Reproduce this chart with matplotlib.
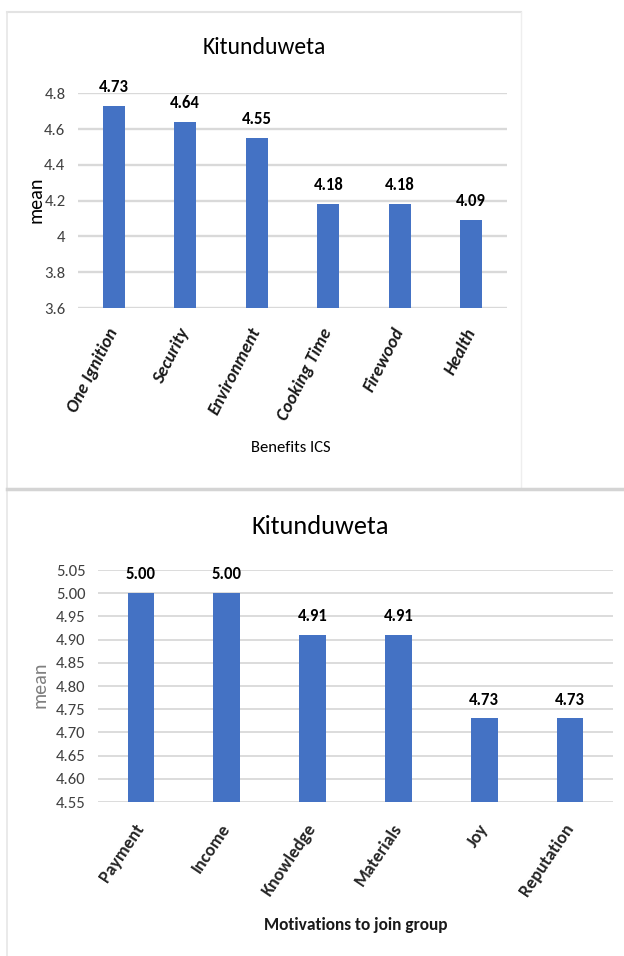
import matplotlib
matplotlib.use("Agg")
import matplotlib.pyplot as plt
from matplotlib.lines import Line2D

# ---- data ----
title_top = "Kitunduweta"
benefits = ["One Ignition", "Security", "Environment", "Cooking Time", "Firewood", "Health"]
benefit_means = [4.73, 4.64, 4.55, 4.18, 4.18, 4.09]
benefit_ticks = [3.6, 3.8, 4.0, 4.2, 4.4, 4.6, 4.8]
benefit_tick_labels = ["3.6", "3.8", "4", "4.2", "4.4", "4.6", "4.8"]
benefit_xlabel = "Benefits ICS"

title_bottom = "Kitunduweta"
motivations = ["Payment", "Income", "Knowledge", "Materials", "Joy", "Reputation"]
motivation_means = [5.00, 5.00, 4.91, 4.91, 4.73, 4.73]
motivation_ticks = [4.55, 4.60, 4.65, 4.70, 4.75, 4.80, 4.85, 4.90, 4.95, 5.00, 5.05]
motivation_xlabel = "Motivations to join group"
ylabel = "mean"

W, H = 624, 956
BAR = "#4472C4"
GRID = "#d9d9d9"
FONT = ["Carlito", "DejaVu Sans"]

fig = plt.figure(figsize=(W / 100, H / 100), dpi=100)
fig.patch.set_facecolor("white")


def px(x, y):
    return x / W, 1 - y / H


def rect_axes(x0, x1, ytop, ybot):
    return fig.add_axes([x0 / W, 1 - ybot / H, (x1 - x0) / W, (ybot - ytop) / H])


def style(ax, cats, vals, ticks, ticklabels, ylim, fmt, rot, italic, pad, tickcolor, gridlw):
    x = list(range(len(cats)))
    ax.bar(x, vals, width=0.31, color=BAR, zorder=3)
    ax.set_xlim(-0.5, len(cats) - 0.5)
    ax.set_ylim(*ylim)
    ax.set_yticks(ticks)
    ax.set_yticklabels(ticklabels, fontfamily=FONT, fontsize=12, color="#404040")
    ax.set_xticks(x)
    ax.set_xticklabels(cats, rotation=rot, ha="right", va="center", rotation_mode="anchor",
                       fontfamily=FONT, fontsize=13, fontweight="bold",
                       fontstyle="italic" if italic else "normal", color=tickcolor)
    ax.tick_params(axis="both", length=0)
    ax.tick_params(axis="x", pad=pad)
    ax.tick_params(axis="y", pad=9)
    for s in ax.spines.values():
        s.set_visible(False)
    ax.grid(axis="y", color=GRID, lw=gridlw, zorder=0)
    ax.set_axisbelow(True)
    for xi, v in zip(x, vals):
        ax.annotate(fmt.format(v), (xi, v), xytext=(0, 10), textcoords="offset points",
                    ha="center", va="baseline", fontfamily=FONT, fontsize=12,
                    fontweight="bold", color="#000000", annotation_clip=False)


# ---- top chart ----
ax1 = rect_axes(78, 507, 93.3, 308)
style(ax1, benefits, benefit_means, benefit_ticks, benefit_tick_labels, (3.6, 4.8),
      "{:.2f}", 63, True, 15, "#1a1a1a", 1.7)
fig.text(*px(264, 48), title_top, ha="center", va="center", fontfamily=FONT, fontsize=17, color="#000000")
fig.text(*px(36, 200), ylabel, ha="center", va="center", rotation=90, fontfamily=FONT, fontsize=14.5, color="#000000")
fig.text(*px(291, 448), benefit_xlabel, ha="center", va="center", fontfamily=FONT, fontsize=12, color="#000000")

# ---- bottom chart ----
ax2 = rect_axes(98, 613, 570, 802)
style(ax2, motivations, motivation_means, motivation_ticks,
      ["{:.2f}".format(t) for t in motivation_ticks], (4.55, 5.05),
      "{:.2f}", 56, False, 17, "#262626", 1.3)
fig.text(*px(320, 527), title_bottom, ha="center", va="center", fontfamily=FONT, fontsize=19, color="#000000")
fig.text(*px(40, 685), ylabel, ha="center", va="center", rotation=90, fontfamily=FONT, fontsize=14.5, color="#7f7f7f")
fig.text(*px(356, 925), motivation_xlabel, ha="center", va="center", fontfamily=FONT, fontsize=12.5,
         fontweight="bold", color="#1a1a1a")

# ---- panel borders ----
def fline(xs, ys, color="#d9d9d9", lw=1.5):
    fig.add_artist(Line2D([x / W for x in xs], [1 - y / H for y in ys], color=color, lw=lw))

fline([7, 521], [12, 12], color="#e3e3e3", lw=1.5)
fline([7, 7], [12, 956], color="#e6e6e6", lw=1.2)
fline([521, 521], [12, 488], color="#eeeeee", lw=1.0)
fline([7, 624], [489, 489], color="#d4d4d4", lw=2.5)

fig.savefig("out.png", dpi=100, facecolor="white")
